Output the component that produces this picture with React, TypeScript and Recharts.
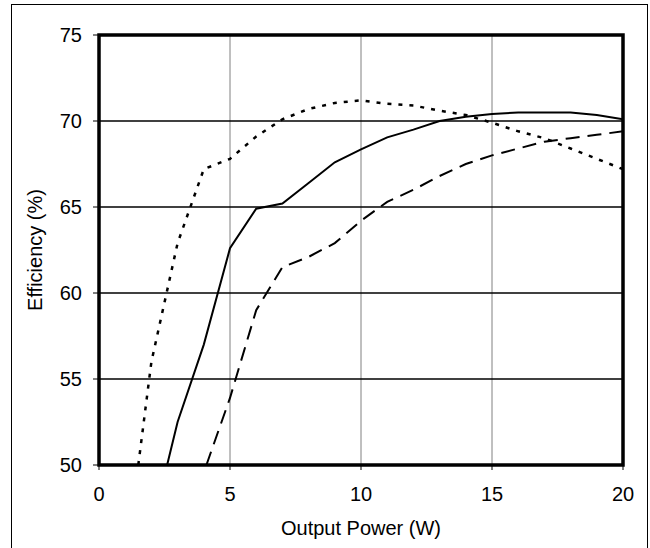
import {
  LineChart,
  Line,
  CartesianGrid,
  XAxis,
  YAxis,
  ReferenceArea,
} from "recharts";

// output power (W) / efficiency (%)
const solidX = [2.6, 3, 4, 5, 6, 7, 8, 9, 10, 11, 12, 13, 14, 15, 16, 17, 18, 19, 20];
const solidY = [50, 52.5, 57, 62.6, 64.9, 65.2, 66.4, 67.6, 68.35, 69.05, 69.5, 70.0, 70.25, 70.4, 70.5, 70.5, 70.5, 70.35, 70.1];

const dashedX = [4.1, 5, 6, 7, 8, 9, 10, 11, 12, 13, 14, 15, 16, 17, 18, 19, 20];
const dashedY = [50, 53.9, 59.0, 61.5, 62.1, 62.9, 64.2, 65.3, 66.0, 66.8, 67.5, 68.0, 68.4, 68.8, 69.0, 69.2, 69.4];

const dottedX = [1.5, 2, 3, 4, 5, 6, 7, 8, 9, 10, 11, 12, 13, 14, 15, 16, 17, 18, 19, 20];
const dottedY = [50, 56, 62.9, 67.2, 67.8, 69.1, 70.1, 70.7, 71.05, 71.2, 71.0, 70.9, 70.6, 70.35, 69.9, 69.4, 69.0, 68.4, 67.8, 67.2];

const xTicks = [0, 5, 10, 15, 20];
const yTicks = [50, 55, 60, 65, 70, 75];

const toPoints = (xs: number[], ys: number[]) =>
  xs.map((x, i) => ({ x, eff: ys[i] }));

const font = "'Liberation Sans', Arial, sans-serif";

const App = () => {
  return (
    <div>
      <div
        style={{
          position: "absolute",
          left: 11,
          top: 4,
          width: 635,
          height: 544,
          border: "1px solid #000",
          borderBottom: "none",
        }}
      />
      <div style={{ position: "absolute", left: 0, top: 0, width: 650, height: 548 }}>
        <LineChart
          width={650}
          height={548}
          margin={{ top: 35, right: 27, left: 20, bottom: 33 }}
          style={{ fontFamily: font }}
        >
          <CartesianGrid horizontal={false} vertical={true} stroke="#808080" strokeWidth={1} />
          <CartesianGrid horizontal={true} vertical={false} stroke="#000" strokeWidth={1.6} />
          <XAxis
            type="number"
            dataKey="x"
            domain={[0, 20]}
            ticks={xTicks}
            allowDataOverflow={true}
            height={50}
            tickSize={5}
            tickMargin={17}
            axisLine={false}
            tickLine={{ stroke: "#000" }}
            tick={{ fill: "#000", fontSize: 20, fontFamily: font }}
            label={{
              value: "Output Power (W)",
              position: "bottom",
              offset: 6,
              fill: "#000",
              fontSize: 20,
              fontFamily: font,
            }}
          />
          <YAxis
            type="number"
            domain={[50, 75]}
            ticks={yTicks}
            allowDataOverflow={true}
            width={79}
            tickSize={6}
            tickMargin={11}
            axisLine={false}
            tickLine={{ stroke: "#000" }}
            tick={{ fill: "#000", fontSize: 20, fontFamily: font }}
            label={{
              value: "Efficiency (%)",
              angle: -90,
              position: "insideLeft",
              offset: 15,
              fill: "#000",
              fontSize: 20,
              fontFamily: font,
              style: { textAnchor: "middle" },
            }}
          />
          <Line
            data={toPoints(dottedX, dottedY)}
            dataKey="eff"
            type="linear"
            stroke="#000"
            strokeWidth={2.5}
            strokeDasharray="4 7"
            dot={false}
            isAnimationActive={false}
          />
          <Line
            data={toPoints(dashedX, dashedY)}
            dataKey="eff"
            type="linear"
            stroke="#000"
            strokeWidth={2}
            strokeDasharray="14 8"
            dot={false}
            isAnimationActive={false}
          />
          <Line
            data={toPoints(solidX, solidY)}
            dataKey="eff"
            type="linear"
            stroke="#000"
            strokeWidth={2}
            dot={false}
            isAnimationActive={false}
          />
          <ReferenceArea
            x1={0}
            x2={20}
            y1={50}
            y2={75}
            fill="none"
            fillOpacity={0}
            stroke="#000"
            strokeWidth={3.5}
            strokeOpacity={1}
          />
        </LineChart>
      </div>
    </div>
  );
};

export default App;
